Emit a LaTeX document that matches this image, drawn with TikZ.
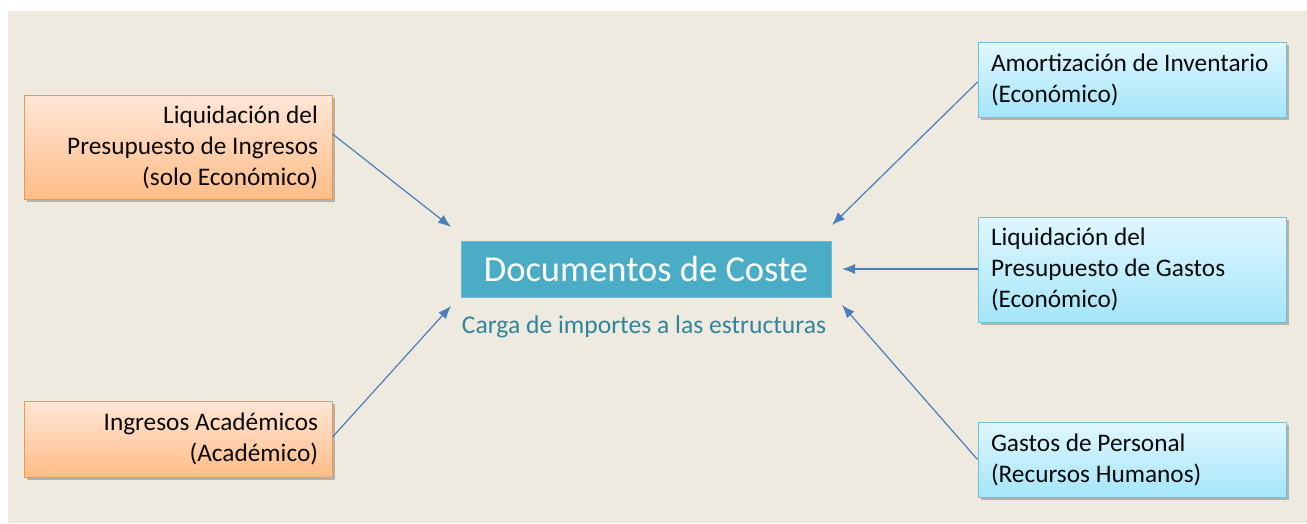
\documentclass[tikz,border=0pt]{standalone}
\usepackage{fontspec}
\setmainfont{Carlito}
\usetikzlibrary{arrows.meta,shadows,positioning}
\definecolor{bgbeige}{HTML}{EEEAE0}
\definecolor{orborder}{HTML}{F79646}
\definecolor{ortop}{HTML}{FFE6D7}
\definecolor{orbot}{HTML}{FFBD87}
\definecolor{blborder}{HTML}{6EC2D7}
\definecolor{bltop}{HTML}{E0F7FE}
\definecolor{blbot}{HTML}{A5E5FA}
\definecolor{centerfill}{HTML}{4BACC6}
\definecolor{subcol}{HTML}{31859C}
\definecolor{arrowcol}{HTML}{4A7EBB}
\definecolor{txt}{HTML}{0A0A0A}
\newcommand\natsp{\spaceskip=0.226em\xspaceskip=0.3em\hyphenpenalty=10000\hbadness=10000\relax}
\tikzset{
  boxshadow/.style={drop shadow={shadow xshift=2.5pt,shadow yshift=-3pt,opacity=0.35,fill=black!70}},
  orbox/.style={draw=orborder,line width=1pt,top color=ortop,bottom color=orbot,boxshadow,
    minimum width=308pt,inner xsep=14pt,inner ysep=0pt,text width=280pt,align=right,
    font=\fontsize{25.3}{31}\selectfont,text=txt},
  blbox/.style={draw=blborder,line width=1pt,top color=bltop,bottom color=blbot,boxshadow,
    minimum width=308pt,inner xsep=13pt,inner ysep=0pt,text width=282pt,align=left,
    font=\fontsize{25.3}{31}\selectfont,text=txt},
  centerbox/.style={fill=centerfill,draw=centerfill!80!white,line width=0.8pt,minimum width=370pt,minimum height=56pt,
    inner sep=0pt,font=\fontsize{36.5}{40}\selectfont,text=white},
  subtitle/.style={font=\fontsize{25.6}{30}\selectfont,text=subcol,inner sep=0pt},
  conn/.style={draw=arrowcol,line width=1.2pt,-{Latex[length=13pt,width=10pt]}}
}
\begin{document}
\begin{tikzpicture}[x=1pt,y=-1pt]
\useasboundingbox (0,0) rectangle (1307,523);
\fill[white] (0,0) rectangle (1307,523);
\fill[bgbeige] (8,11) rectangle (1307,523);

% left boxes
\node[orbox,minimum height=104pt] (lt) at (178,147) {\natsp Liquidación del\\Presupuesto de Ingresos\\(solo Económico)};
\node[orbox,minimum height=76pt] (lb) at (178,439) {\natsp Ingresos Académicos\\(Académico)};

% right boxes
\node[blbox,minimum height=75pt] (rt) at (1132,79.5) {\natsp Amortización de Inventario\\(Económico)};
\node[blbox,minimum height=105pt] (rm) at (1132,269.5) {\natsp Liquidación del\\Presupuesto de Gastos\\(Económico)};
\node[blbox,minimum height=75pt] (rb) at (1132,459.5) {\natsp Gastos de Personal\\(Recursos Humanos)};

% center
\node[centerbox] (c) at (646,269) {Documentos de Coste};
\node[subtitle] (sub) at (644,327) {Carga de importes a las estructuras};

% arrow tips
\coordinate (tlt) at (451,227);
\coordinate (tlb) at (451,306);
\coordinate (trt) at (832,225);
\coordinate (trm) at (842,269);
\coordinate (trb) at (842,305);

\draw[conn] ([yshift=13pt]lt.east) -- (tlt);
\draw[conn] ([yshift=2pt]lb.east) -- (tlb);
\draw[conn] ([yshift=-2.5pt]rt.west) -- (trt);
\draw[conn] ([yshift=0.5pt]rm.west) -- (trm);
\draw[conn] (rb.west) -- (trb);
\end{tikzpicture}
\end{document}
